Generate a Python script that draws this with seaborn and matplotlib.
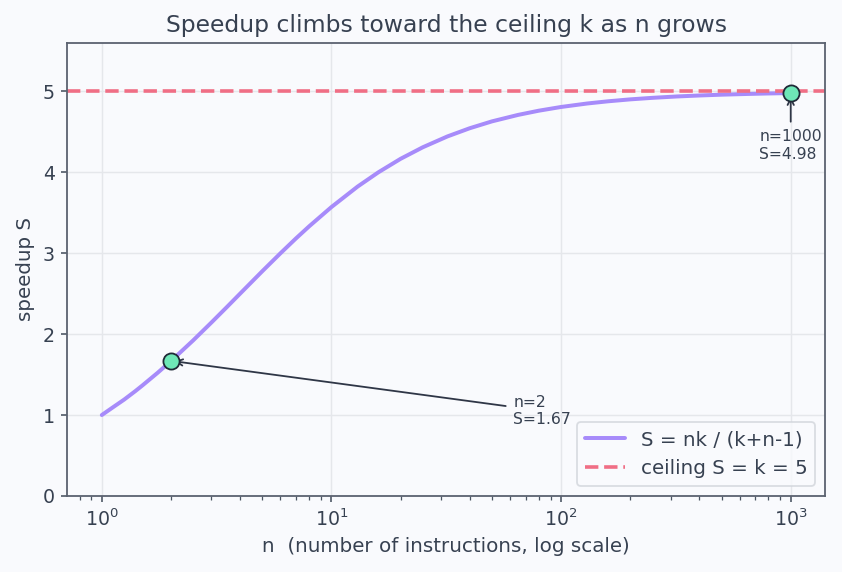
import matplotlib
matplotlib.use("Agg")
import matplotlib.pyplot as plt
import seaborn as sns

# valores (k = 5)
k = 5
n_vals = [1, 1.12, 1.25, 1.4, 1.5, 1.75, 2, 2.5, 3, 3.5, 4, 5, 6, 7, 8, 10,
          13, 16, 20, 25, 32, 40, 50, 65, 80, 100, 130, 160, 200, 250, 320,
          400, 500, 650, 800, 1000]
s_vals = [1.0, 1.097, 1.19, 1.296, 1.364, 1.522, 1.667, 1.923, 2.143, 2.333,
          2.5, 2.778, 3.0, 3.182, 3.333, 3.571, 3.824, 4.0, 4.167, 4.31,
          4.444, 4.545, 4.63, 4.71, 4.762, 4.808, 4.851, 4.878, 4.902, 4.921,
          4.938, 4.95, 4.96, 4.969, 4.975, 4.98]
puntos_n = [2, 1000]
puntos_s = [1.67, 4.98]

texto = "#374151"
fondo = "#f9fafd"

sns.set_theme(style="whitegrid")
plt.rcParams["font.family"] = ["DejaVu Sans"]

fig, ax = plt.subplots(figsize=(842 / 130, 572 / 130), dpi=130)
fig.patch.set_facecolor(fondo)
ax.set_facecolor(fondo)

sns.lineplot(x=n_vals, y=s_vals, ax=ax, color="#a78bfa", linewidth=2.2,
             label="S = nk / (k+n-1)")
ax.axhline(k, color="#f06e85", linestyle="--", linewidth=2,
           label="ceiling S = k = 5")
ax.scatter(puntos_n, puntos_s, s=80, color="#6ee7b7", edgecolor="#1f2937",
           linewidth=1.0, zorder=5)

ax.annotate("n=2\nS=1.67", xy=(2, 1.67), xytext=(62, 1.05),
            fontsize=8.7, color=texto, ha="left", va="center",
            arrowprops=dict(arrowstyle="->", color="#2f3646", lw=1.0))
ax.annotate("n=1000\nS=4.98", xy=(1000, 4.98), xytext=(1000, 4.33),
            fontsize=8.7, color=texto, ha="center", va="center",
            multialignment="left",
            arrowprops=dict(arrowstyle="->", color="#2f3646", lw=1.0))

ax.set_xscale("log")
ax.set_ylim(0, 5.6)
ax.set_title("Speedup climbs toward the ceiling k as n grows", fontsize=13,
             color=texto)
ax.set_xlabel("n  (number of instructions, log scale)", fontsize=11,
              color=texto)
ax.set_ylabel("speedup S", fontsize=11, color=texto)
ax.tick_params(axis="both", colors=texto, labelsize=10.5)
ax.tick_params(axis="both", which="major", bottom=True, left=True,
               length=3.5, width=0.9, color="#4b5563")
ax.tick_params(axis="x", which="minor", bottom=True, length=2, width=0.7,
               color="#4b5563")
ax.grid(True, color="#e5e7eb", linewidth=0.8)
for sp in ax.spines.values():
    sp.set_color("#5b6270")
    sp.set_linewidth(1.0)

leg = ax.legend(loc="lower right", fontsize=11, frameon=True)
leg.get_frame().set_edgecolor("#d1d5db")
leg.get_frame().set_facecolor(fondo)
for t in leg.get_texts():
    t.set_color(texto)

fig.subplots_adjust(left=0.08, right=0.98, top=0.925, bottom=0.133)
fig.savefig("out.png", dpi=130, facecolor=fondo)
plt.close()
